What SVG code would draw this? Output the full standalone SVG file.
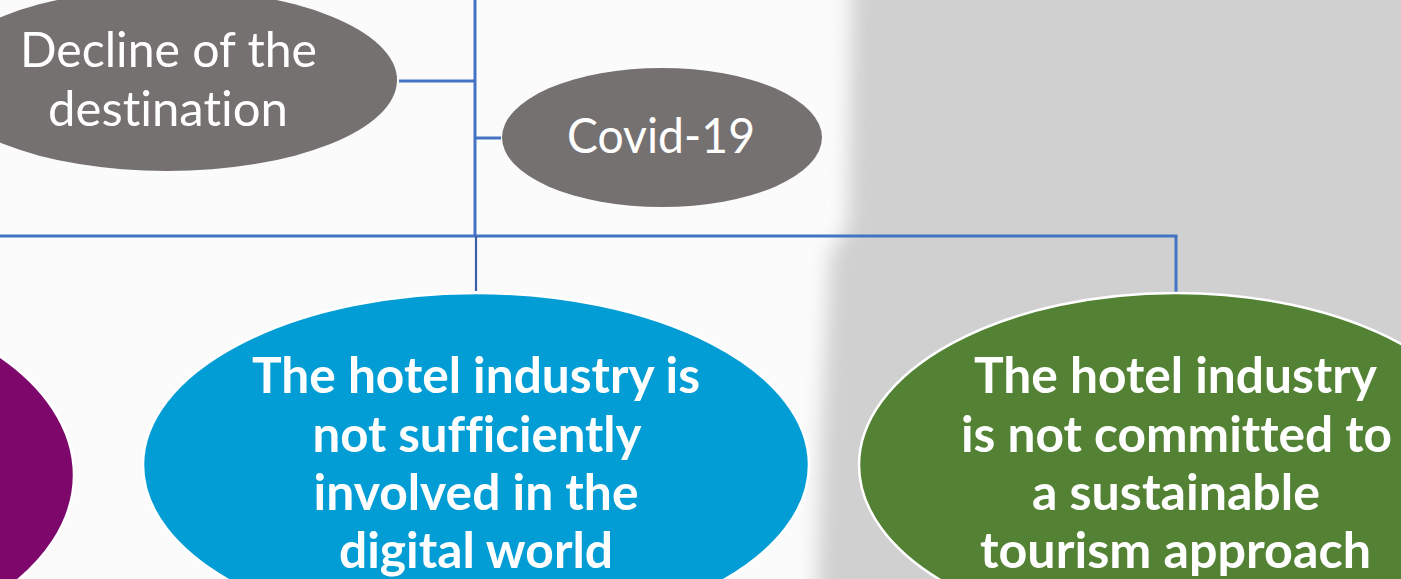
<svg xmlns="http://www.w3.org/2000/svg" width="1401" height="579" viewBox="0 0 1401 579">
  <defs>
    <filter id="soft" x="-20%" y="-20%" width="140%" height="140%">
      <feGaussianBlur stdDeviation="10"/>
    </filter>
    <style>
      text { font-variant-ligatures: none; font-feature-settings: "liga" 0, "clig" 0, "dlig" 0; }
      .reg { font-family: Lato, "Liberation Sans", sans-serif; font-size: 48px; fill: #ffffff; text-anchor: middle; }
      .bold { font-family: Lato, "Liberation Sans", sans-serif; font-weight: bold; font-size: 50px; fill: #ffffff; text-anchor: middle; }
      .conn { stroke: #4472C4; stroke-width: 3; fill: none; }
      .big { stroke: #ffffff; stroke-width: 2.5; }
    </style>
  </defs>

  <!-- background -->
  <rect x="0" y="0" width="1401" height="579" fill="#FBFBFB"/>
  <path d="M852,-40 L848,225 L830,255 L822,420 L816,640 L1450,640 L1450,-40 Z" fill="#D0D0D0" filter="url(#soft)"/>
  <rect x="880" y="0" width="521" height="579" fill="#D0D0D0"/>

  <g id="connectors">
    <line class="conn" x1="475" y1="0" x2="475" y2="236"/>
    <line class="conn" x1="399" y1="81" x2="475" y2="81"/>
    <line class="conn" x1="475" y1="138" x2="501" y2="138"/>
    <line class="conn" x1="0" y1="236" x2="1177.5" y2="236"/>
    <line class="conn" x1="1176" y1="236" x2="1176" y2="293"/>
    <line x1="476" y1="236" x2="476" y2="291" stroke="#3B5FA8" stroke-width="2.2"/>
  </g>

  <g id="node-decline">
    <ellipse cx="167" cy="80" rx="230" ry="91" fill="#767171"/>
    <text class="reg" x="168.5" y="67" textLength="297" lengthAdjust="spacingAndGlyphs">Decline of the</text>
    <text class="reg" x="168" y="126" textLength="240" lengthAdjust="spacingAndGlyphs">destination</text>
  </g>

  <g id="node-covid">
    <ellipse cx="662" cy="137.5" rx="160" ry="69.5" fill="#767171"/>
    <text class="reg" x="661" y="153" textLength="188" lengthAdjust="spacingAndGlyphs">Covid-19</text>
  </g>

  <g id="node-purple">
    <ellipse class="big" cx="-225" cy="475" rx="299" ry="180" fill="#7E076C"/>
  </g>

  <g id="node-digital">
    <ellipse class="big" cx="476" cy="465" rx="333" ry="172" fill="#029DD4"/>
    <text class="bold" x="476" y="393" textLength="448" lengthAdjust="spacingAndGlyphs">The hotel industry is</text>
    <text class="bold" x="477" y="452" textLength="329" lengthAdjust="spacingAndGlyphs">not sufficiently</text>
    <text class="bold" x="476" y="510" textLength="325" lengthAdjust="spacingAndGlyphs">involved in the</text>
    <text class="bold" x="476" y="568" textLength="274" lengthAdjust="spacingAndGlyphs">digital world</text>
  </g>

  <g id="node-sustainable">
    <ellipse class="big" cx="1176" cy="465" rx="317" ry="172" fill="#548235"/>
    <text class="bold" x="1175.5" y="393" textLength="403" lengthAdjust="spacingAndGlyphs">The hotel industry</text>
    <text class="bold" x="1176.5" y="452" textLength="431" lengthAdjust="spacingAndGlyphs">is not committed to</text>
    <text class="bold" x="1176" y="510" textLength="288" lengthAdjust="spacingAndGlyphs">a sustainable</text>
    <text class="bold" x="1175.5" y="568" textLength="391" lengthAdjust="spacingAndGlyphs">tourism approach</text>
  </g>
</svg>
